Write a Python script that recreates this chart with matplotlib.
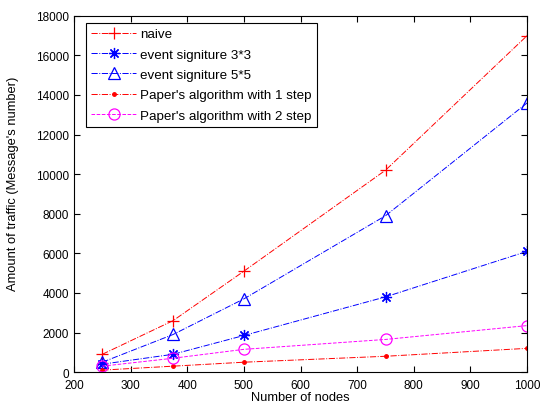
import matplotlib
matplotlib.use("Agg")
import matplotlib.pyplot as plt

plt.rcParams['font.family'] = ['Liberation Sans', 'DejaVu Sans']
plt.rcParams['font.size'] = 8

nodes = [250, 375, 500, 750, 1000]
naive = [900, 2600, 5100, 10200, 17000]
sig33 = [400, 900, 1850, 3800, 6100]
sig55 = [500, 1900, 3700, 7900, 13600]
alg1 = [100, 300, 500, 800, 1200]
alg2 = [300, 700, 1150, 1650, 2350]

fig = plt.figure(figsize=(5.44, 4.10), dpi=100)
ax = fig.add_axes([0.136, 0.090, 0.833, 0.869])

ax.plot(nodes, naive, color='red', ls='-.', marker='+', ms=9, mew=0.9, lw=0.7, label='naive')
ax.plot(nodes, sig33, color='blue', ls='-.', marker=(8, 2, 0), ms=8, mew=0.9, lw=0.7, label='event signiture 3*3')
ax.plot(nodes, sig55, color='blue', ls='-.', marker='^', ms=8, mfc='none', mew=0.9, lw=0.7, label='event signiture 5*5')
ax.plot(nodes, alg1, color='red', ls='-.', marker='.', ms=5, lw=0.7, label="Paper's algorithm with 1 step")
ax.plot(nodes, alg2, color='magenta', ls='--', marker='o', ms=8, mfc='none', mew=0.9, lw=0.7, label="Paper's algorithm with 2 step")

ax.set_xlim(200, 1000)
ax.set_ylim(0, 18000)
ax.set_xticks(range(200, 1001, 100))
ax.set_yticks(range(0, 18001, 2000))
ax.tick_params(direction='in', top=True, right=True, length=4, labelsize=8.5)
ax.tick_params(axis='x', pad=5)
ax.set_xlabel('Number of nodes', fontsize=9.3, labelpad=0)
ax.set_ylabel("Amount of traffic (Message's number)", fontsize=9.3)
ax.yaxis.set_label_coords(-0.122, 0.53)

leg = ax.legend(loc='upper left', bbox_to_anchor=(0.026, 0.981), borderaxespad=0,
                fontsize=9.6, fancybox=False, framealpha=1,
                edgecolor='black', handlelength=3.4,
                labelspacing=0.6, handletextpad=0.3, borderpad=0.4)
leg.get_frame().set_linewidth(0.8)

fig.savefig('out.png', dpi=100)
